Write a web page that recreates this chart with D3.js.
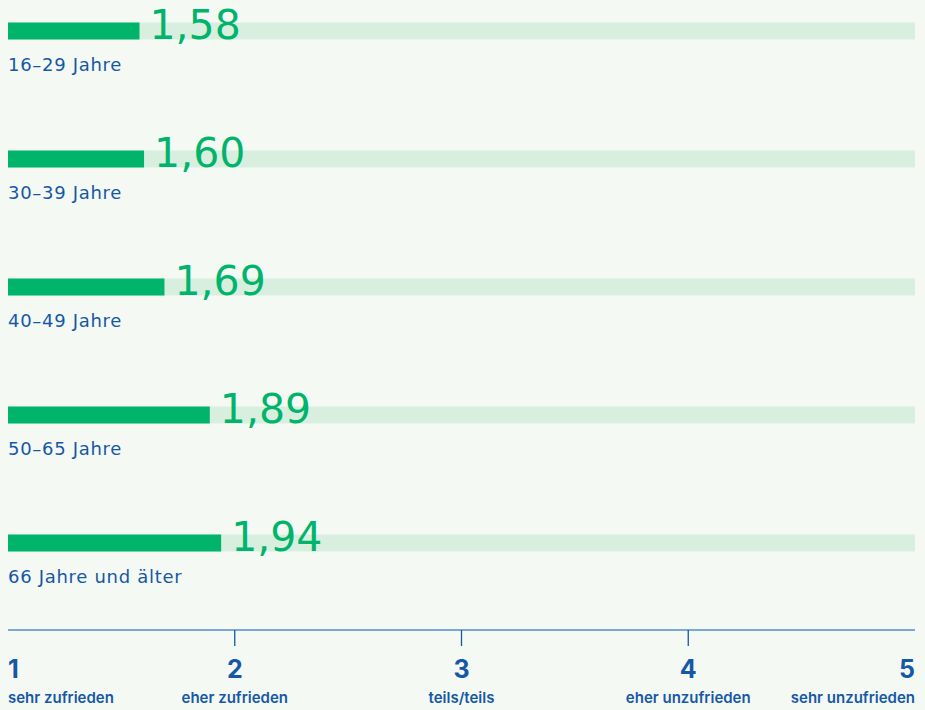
<!DOCTYPE html>
<html>
<head>
<meta charset="utf-8">
<script src="https://cdn.jsdelivr.net/npm/d3@7"></script>
<style>
  body { margin: 0; background: #f5f9f3; }
  svg { display: block; }
</style>
</head>
<body>
<div id="chart"></div>
<script>
// data
const groups = ["16–29 Jahre", "30–39 Jahre", "40–49 Jahre", "50–65 Jahre", "66 Jahre und älter"];
const values = [1.58, 1.60, 1.69, 1.89, 1.94];
const tickValues = [1, 2, 3, 4, 5];
const tickLabels = ["sehr zufrieden", "eher zufrieden", "teils/teils", "eher unzufrieden", "sehr unzufrieden"];

const dim = { width: 925, height: 710 };
const green = "#00b46c";
const track = "#d8efdf";
const blue = "#1558a6";

let svg = d3.select("#chart").append("svg")
  .attr("width", dim.width)
  .attr("height", dim.height)
  .style("background", "#f5f9f3");

let x = d3.scaleLinear().domain([1, 5]).range([8, 915]);

let y = d3.scaleBand().domain(groups).range([-33, 607]).paddingInner(0).paddingOuter(0);

const barH = 17;

let rows = svg.selectAll("g.row")
  .data(groups)
  .join("g")
  .attr("class", "row")
  .attr("transform", (d) => `translate(0,${y(d) + y.bandwidth() / 2})`);

// background track
rows.append("rect")
  .attr("x", x(1))
  .attr("y", -barH / 2)
  .attr("width", x(5) - x(1))
  .attr("height", barH)
  .attr("fill", track);

// value bar
rows.append("rect")
  .attr("x", x(1))
  .attr("y", -barH / 2)
  .attr("width", (d, i) => x(values[i]) - x(1))
  .attr("height", barH)
  .attr("fill", green);

// value label
rows.append("text")
  .attr("x", (d, i) => x(values[i]) + 10)
  .attr("y", barH / 2 - 1)
  .attr("font-family", "DejaVu Sans")
  .attr("font-size", 41)
  .attr("fill", green)
  .text((d, i) => d3.format(".2f")(values[i]).replace(".", ","));

// group label
rows.append("text")
  .attr("x", x(1))
  .attr("y", 40)
  .attr("font-family", "DejaVu Sans")
  .attr("font-size", 18)
  .attr("letter-spacing", 0.7)
  .attr("fill", blue)
  .text((d) => d);

// axis
let axisG = svg.append("g").attr("transform", "translate(0,630)");
axisG.append("line")
  .attr("x1", x(1)).attr("x2", x(5))
  .attr("stroke", "#4f8fd2").attr("stroke-width", 1.3);

axisG.selectAll("line.tick")
  .data(tickValues.slice(1, -1))
  .join("line")
  .attr("class", "tick")
  .attr("x1", (d) => x(d)).attr("x2", (d) => x(d))
  .attr("y1", 0).attr("y2", 16)
  .attr("stroke", blue).attr("stroke-width", 1.3);

const anchor = (i) => (i === 0 ? "start" : i === tickValues.length - 1 ? "end" : "middle");

axisG.selectAll("text.num")
  .data(tickValues)
  .join("text")
  .attr("class", "num")
  .attr("x", (d) => x(d))
  .attr("y", 48)
  .attr("text-anchor", (d, i) => anchor(i))
  .attr("font-family", "Inter")
  .attr("font-weight", 700)
  .attr("font-size", 25)
  .attr("fill", blue)
  .text((d) => d);

axisG.selectAll("text.lab")
  .data(tickLabels)
  .join("text")
  .attr("class", "lab")
  .attr("x", (d, i) => x(tickValues[i]))
  .attr("y", 73)
  .attr("text-anchor", (d, i) => anchor(i))
  .attr("font-family", "Inter")
  .attr("font-weight", 600)
  .attr("font-size", 15)
  .attr("fill", blue)
  .text((d) => d);
</script>
</body>
</html>
